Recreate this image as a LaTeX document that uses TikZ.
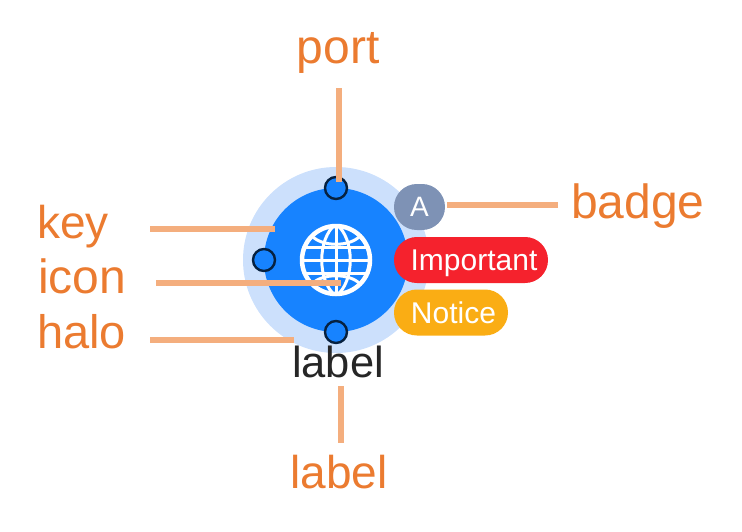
\documentclass[tikz,border=0pt]{standalone}
\usepackage{fontspec}
\setmainfont{Liberation Sans}
\definecolor{halo}{HTML}{CCE0FC}
\definecolor{keyblue}{HTML}{1783FF}
\definecolor{lead}{HTML}{F4AE7E}
\definecolor{anno}{HTML}{EB7B30}
\definecolor{badgeA}{HTML}{7E92B5}
\definecolor{badgeR}{HTML}{F5222D}
\definecolor{badgeY}{HTML}{FAAD14}
\definecolor{labeltxt}{HTML}{262626}
\tikzset{
  annotext/.style={text=anno,font=\fontsize{48}{48}\selectfont,inner sep=0pt,anchor=base},
  leader/.style={draw=lead,line width=6.5pt},
  portdot/.style={circle,fill=keyblue,draw=black!75!keyblue,line width=2.4pt,minimum size=22pt,inner sep=0pt},
  pill/.style={rounded corners=22.9pt,text=white,font=\fontsize{30}{30}\selectfont,inner sep=0pt,minimum height=46pt,text height=21.5pt,text depth=0pt},
  globeline/.style={draw=white,line width=3pt}
}
\begin{document}
\begin{tikzpicture}[x=1pt,y=-1pt]
\useasboundingbox (0,0) rectangle (742,531);
\node[circle,fill=halo,minimum size=186pt,inner sep=0pt] (haloC) at (336,260) {};
\node[circle,fill=keyblue,minimum size=144pt,inner sep=0pt] (keyC) at (336,260) {};
% globe icon
\begin{scope}
\clip (336,260) circle (36);
\draw[globeline] (300,260) -- (372,260);
\draw[globeline] (336,224) -- (336,296);
\draw[globeline] (301,247) -- (371,247);
\draw[globeline] (301,273) -- (371,273);
\draw[globeline] (336,224) .. controls (317,238) and (317,282) .. (336,296);
\draw[globeline] (336,224) .. controls (355,238) and (355,282) .. (336,296);
\draw[globeline] (312,236) .. controls (322,247) and (350,247) .. (360,236);
\draw[globeline] (312,284) .. controls (322,273) and (350,273) .. (360,284);
\end{scope}
\node[circle,draw=white,line width=4.5pt,minimum size=68pt,inner sep=0pt] (globe) at (336,260) {};
\node[portdot] (portT) at (336,188) {};
\node[portdot] (portL) at (264,260) {};
\node[portdot] (portB) at (336,332) {};
\node[pill,fill=badgeA,minimum width=51pt,font=\fontsize{28}{28}\selectfont,text height=19.5pt] (badgeAn) at (419.5,207) {A};
\node[pill,fill=badgeR,minimum width=154pt] (imp) at (471,260) {\hspace*{6pt}Important};
\node[pill,fill=badgeY,minimum width=114pt] (notice) at (451,312.5) {\hspace*{5pt}Notice};
\node[text=labeltxt,font=\fontsize{43.5}{43.5}\selectfont,inner sep=0pt,anchor=base] (labelT) at (338,377) {label};
% annotation texts
\node[annotext] (tPort) at (338,63) {port};
\node[annotext,anchor=base west,font=\fontsize{46}{46}\selectfont] (tKey) at (37,238) {key};
\node[annotext,anchor=base west] (tIcon) at (38,293) {icon};
\node[annotext,anchor=base west,font=\fontsize{47}{47}\selectfont] (tHalo) at (37,348) {halo};
\node[annotext,font=\fontsize{46}{46}\selectfont] (tLabel) at (339,488) {label};
\node[annotext,anchor=base west] (tBadge) at (571,218) {badge};
% leader lines
\coordinate (pA) at (339,88); \coordinate (pB) at (339,182);
\coordinate (kA) at (150,229); \coordinate (kB) at (275,229);
\coordinate (iA) at (156,283); \coordinate (iB) at (341,283);
\coordinate (hA) at (150,340); \coordinate (hB) at (294,340);
\coordinate (lA) at (341,386); \coordinate (lB) at (341,443);
\coordinate (bA) at (558,205); \coordinate (bB) at (447,205);
\draw[leader] (pA) -- (pB);
\draw[leader] (kA) -- (kB);
\draw[leader] (iA) -- (iB);
\draw[leader] (hA) -- (hB);
\draw[leader] (lA) -- (lB);
\draw[leader] (bA) -- (bB);
\end{tikzpicture}
\end{document}
